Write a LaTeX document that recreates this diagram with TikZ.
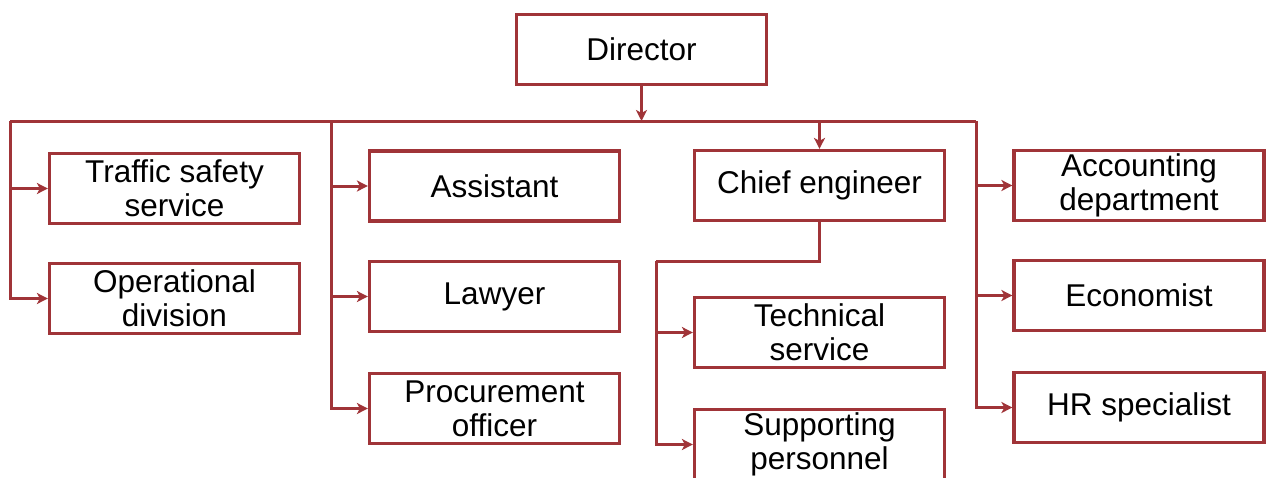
\documentclass[tikz,border=0pt]{standalone}
\usepackage{fontspec}
\setmainfont{Liberation Sans}
\usetikzlibrary{arrows.meta}
\definecolor{orgred}{RGB}{160,52,56}
\tikzset{
  box/.style={draw=orgred, line width=3.2pt, rectangle, minimum width=250pt, minimum height=70pt,
    inner sep=0pt, align=center, text=black, font=\fontsize{31.5}{34}\selectfont},
  conn/.style={draw=orgred, line width=3pt, line join=miter},
  arr/.style={conn, -{Stealth[length=11pt,width=11pt,inset=3pt]}}
}
\begin{document}
\begin{tikzpicture}[x=1pt,y=-1pt]
\clip (0,0) rectangle (1267,477);
\fill[white] (0,0) rectangle (1267,477);
% nodes
\node[box] (director) at (641.5,49.5) {Director};
\node[box] (traffic) at (174.5,188.5) {Traffic safety\\service};
\node[box] (oper) at (174.5,298.5) {Operational\\division};
\node[box] (assistant) at (494.5,186) {Assistant};
\node[box] (lawyer) at (494.5,296.5) {Lawyer};
\node[box] (proc) at (494.5,408.5) {Procurement\\officer};
\node[box] (chief) at (819.5,185.5) {Chief engineer};
\node[box] (tech) at (819.5,332.5) {Technical\\service};
\node[box] (supp) at (819.5,444.5) {Supporting\\personnel};
\node[box] (acc) at (1139,185.5) {Accounting\\department};
\node[box] (econ) at (1139,295.5) {Economist};
\node[box] (hr) at (1139,407.5) {HR specialist};
% bus
\coordinate (bL) at (10,121);
\coordinate (b2) at (331,121);
\coordinate (bR) at (976,121);
\coordinate (c1) at (656,261);
\draw[conn] (bL) -- (bR);
\draw[arr] (director.south) -- (director.south |- bL);
\draw[arr] (bL) |- (traffic.west);
\draw[arr] (bL) |- (oper.west);
\draw[arr] (b2) |- (assistant.west);
\draw[arr] (b2) |- (lawyer.west);
\draw[arr] (b2) |- (proc.west);
\draw[arr] (chief.north |- bL) -- (chief.north);
\draw[conn] (chief.south) |- (c1);
\draw[arr] (c1) |- (tech.west);
\draw[arr] (c1) |- (supp.west);
\draw[arr] (bR) |- (acc.west);
\draw[arr] (bR) |- (econ.west);
\draw[arr] (bR) |- (hr.west);
\end{tikzpicture}
\end{document}
